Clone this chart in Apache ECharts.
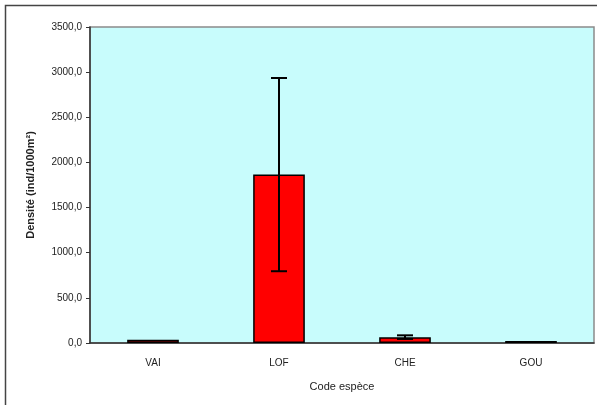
<!DOCTYPE html>
<html>
<head>
<meta charset="utf-8">
<script src="https://cdn.jsdelivr.net/npm/echarts@6/dist/echarts.min.js"></script>
<style>
  html, body { margin: 0; padding: 0; background: #fff; }
  #chart { width: 597px; height: 405px; }
</style>
</head>
<body>
<div id="chart"></div>
<script>
// Données
let especes = ["VAI", "LOF", "CHE", "GOU"];
let densites = [35, 1865, 65, 22];
let erreurBas = [null, 795, 45, null];
let erreurHaut = [null, 2935, 85, null];

let chart = echarts.init(document.getElementById("chart"));

function fmt(v) {
    return v.toFixed(1).replace(".", ",");
}

let option = {
    backgroundColor: "#ffffff",
    animation: false,
    textStyle: { fontFamily: "Liberation Sans, Arial, sans-serif" },
    graphic: [{
        type: "rect",
        z: -10,
        shape: { x: 5.5, y: 5.5, width: 600, height: 410 },
        style: { fill: "#ffffff", stroke: "#444", lineWidth: 1.5 }
    }],
    grid: {
        left: 90, right: 3, top: 27, bottom: 62,
        show: true,
        backgroundColor: "#c8fcfc",
        borderColor: "#8a8a8a",
        borderWidth: 1.5
    },
    xAxis: {
        type: "category",
        data: especes,
        name: "Code espèce",
        nameLocation: "middle",
        nameGap: 38,
        nameTextStyle: { fontSize: 11, color: "#222" },
        axisLine: { lineStyle: { color: "#333", width: 1.5 } },
        axisTick: { length: 6, lineStyle: { color: "#333" } },
        axisLabel: { fontSize: 10, color: "#222", margin: 15 }
    },
    yAxis: {
        type: "value",
        min: 0,
        max: 3500,
        interval: 500,
        name: "Densité (ind/1000m²)",
        nameLocation: "middle",
        nameGap: 54,
        nameTextStyle: { fontSize: 11, color: "#222", fontWeight: "bold" },
        axisLine: { show: true, lineStyle: { color: "#333", width: 1.5 } },
        axisTick: { show: true, length: 4, lineStyle: { color: "#333" } },
        splitLine: { show: false },
        axisLabel: { fontSize: 10, color: "#222", formatter: fmt }
    },
    series: [{
        type: "bar",
        data: densites,
        barWidth: "41%",
        itemStyle: { color: "#ff0000", borderColor: "#000", borderWidth: 1.5 }
    }, {
        type: "custom",
        data: especes.map((e, i) => [i, erreurBas[i], erreurHaut[i]]).filter(d => d[1] != null),
        renderItem: function (params, api) {
            let bas = api.coord([api.value(0), api.value(1)]);
            let haut = api.coord([api.value(0), api.value(2)]);
            let w = 8;
            let st = { stroke: "#000", lineWidth: 2 };
            return {
                type: "group",
                children: [
                    { type: "line", shape: { x1: haut[0], y1: haut[1], x2: bas[0], y2: bas[1] }, style: st },
                    { type: "line", shape: { x1: haut[0] - w, y1: haut[1], x2: haut[0] + w, y2: haut[1] }, style: st },
                    { type: "line", shape: { x1: bas[0] - w, y1: bas[1], x2: bas[0] + w, y2: bas[1] }, style: st }
                ]
            };
        },
        z: 5
    }]
};

chart.setOption(option);
</script>
</body>
</html>
